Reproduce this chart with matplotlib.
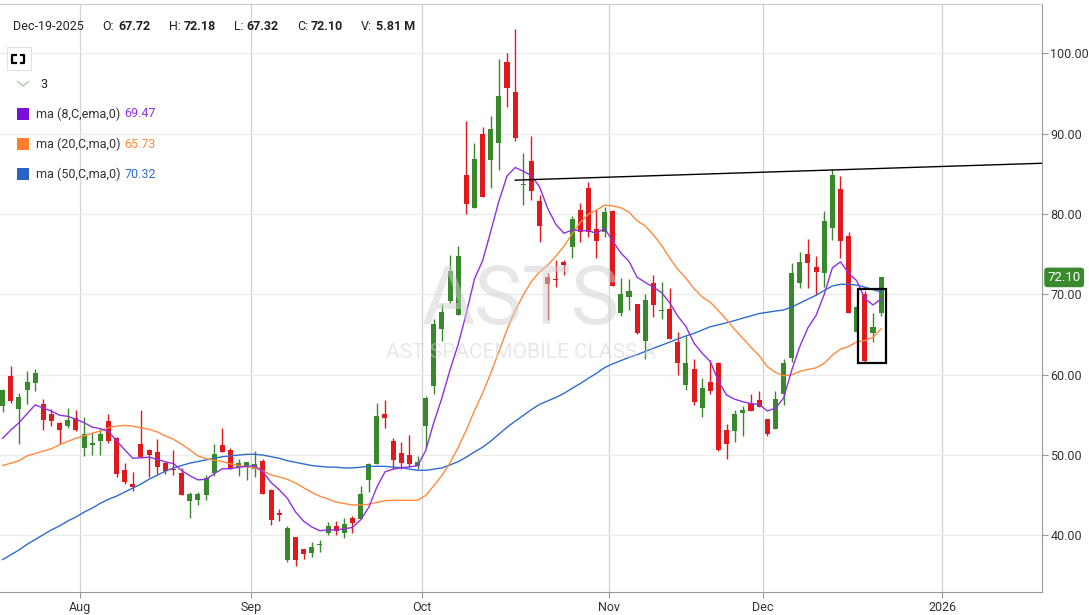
import numpy as np
import pandas as pd
import matplotlib
matplotlib.use("Agg")
import matplotlib.pyplot as plt
from matplotlib.patches import Rectangle
from matplotlib.lines import Line2D

plt.rcParams['font.family'] = ['Roboto', 'DejaVu Sans']

# daily candles, Jul-18-2025 .. Dec-19-2025
opens = [56.1, 59.83, 55.72, 58.06, 58.93, 56.33, 55.1, 53.99, 53.62, 54.61,
         50.9, 51.28, 51.77, 54.24, 52.14, 48.19, 46.46, 51.4, 50.66, 50.41,
         49.05, 48.31, 47.82, 44.26, 44.36, 45.0, 47.8, 51.28, 50.66, 48.58,
         48.64, 48.31, 49.21, 45.63, 42.75, 37.0, 39.8, 38.3, 37.8, 38.76,
         40.28, 41.15, 40.33, 42.14, 42.05, 46.87, 48.93, 55.1, 51.76, 50.28,
         50.06, 48.6, 53.57, 58.62, 65.69, 69.12, 67.42, 84.87, 80.7, 89.96,
         86.65, 88.76, 98.89, 95.17, 83.6, 86.61, 81.6, 72.18, 71.93, 73.99,
         75.88, 80.53, 83.21, 78.14, 77.73, 80.41, 67.73, 69.71, 68.8, 64.15,
         71.35, 67.93, 68.18, 64.11, 58.72, 60.65, 55.88, 59.05, 61.51, 53.12,
         53.04, 55.26, 56.49, 56.82, 54.44, 53.28, 57.56, 62.11, 71.36, 74.97,
         73.39, 72.69, 78.28, 83.09, 77.25, 65.35, 69.99, 65.14, 67.72]
highs = [58.2, 61.07, 57.73, 60.41, 60.66, 56.95, 55.72, 54.11, 55.84, 55.59,
         54.73, 52.88, 53.25, 55.1, 52.26, 49.05, 47.94, 55.59, 50.78, 52.01,
         49.17, 50.66, 48.43, 45.35, 45.35, 47.57, 51.4, 53.37, 50.84, 49.54,
         49.19, 50.53, 49.54, 45.84, 43.25, 41.2, 39.8, 38.3, 39.17, 39.46,
         41.64, 41.8, 42.14, 42.42, 46.2, 49.05, 56.46, 56.83, 52.14, 51.68,
         52.5, 49.93, 57.29, 66.88, 68.83, 74.95, 76.06, 91.57, 88.8, 90.79,
         92.15, 99.22, 99.97, 102.94, 87.56, 89.71, 82.4, 72.67, 74.24, 74.24,
         79.79, 81.31, 83.99, 80.49, 80.9, 80.5, 71.97, 71.89, 68.8, 70.0,
         72.38, 71.51, 70.77, 65.34, 64.77, 62.01, 59.54, 61.88, 61.64, 53.86,
         55.59, 56.12, 57.56, 57.93, 54.44, 57.93, 62.01, 73.85, 75.22, 76.87,
         74.76, 80.36, 85.54, 84.71, 77.79, 68.87, 70.41, 67.63, 72.18]
lows = [55.4, 56.5, 51.4, 56.33, 57.94, 53.12, 53.66, 51.4, 53.37, 53.0,
        49.92, 50.04, 50.04, 51.52, 47.32, 46.46, 45.59, 49.8, 47.32, 47.69,
        47.69, 47.57, 45.0, 42.14, 43.76, 44.38, 47.36, 50.33, 48.31, 47.34,
        46.95, 47.22, 45.22, 41.31, 41.8, 36.7, 36.25, 37.1, 37.36, 37.94,
        40.08, 40.08, 39.71, 40.33, 42.05, 45.39, 48.84, 53.33, 48.31, 48.31,
        48.48, 48.28, 50.97, 57.58, 64.2, 68.87, 67.42, 79.95, 80.7, 82.06,
        83.22, 85.41, 93.35, 89.13, 81.1, 81.77, 76.45, 66.75, 70.94, 72.38,
        74.52, 76.5, 77.12, 74.52, 77.12, 71.03, 67.24, 68.06, 65.1, 62.01,
        67.16, 66.99, 64.48, 59.95, 58.1, 56.25, 54.77, 57.61, 50.45, 49.46,
        51.68, 52.42, 55.51, 56.0, 52.42, 53.28, 56.25, 61.62, 70.74, 70.82,
        69.91, 70.95, 76.75, 74.55, 67.63, 65.35, 61.49, 64.1, 67.32]
closes = [58.1, 56.7, 57.2, 59.05, 60.16, 54.36, 54.24, 53.12, 54.36, 53.12,
          52.63, 51.52, 52.63, 51.77, 47.69, 46.7, 45.97, 49.8, 50.04, 48.56,
          48.06, 48.19, 45.02, 45.22, 45.1, 47.2, 50.16, 50.43, 48.35, 49.05,
          49.09, 48.93, 45.22, 41.93, 42.55, 40.9, 37.0, 37.75, 38.56, 38.92,
          41.15, 40.57, 41.4, 41.56, 45.22, 48.93, 54.85, 54.56, 49.42, 49.05,
          48.9, 49.19, 57.09, 66.27, 67.84, 72.96, 74.78, 81.19, 86.86, 82.06,
          90.58, 94.67, 95.71, 89.5, 83.7, 82.8, 78.55, 71.31, 71.77, 73.66,
          79.42, 77.73, 77.73, 76.62, 80.28, 71.03, 70.04, 70.41, 65.18, 69.3,
          68.68, 68.0, 64.48, 61.43, 61.51, 56.62, 58.3, 57.98, 50.69, 51.43,
          55.1, 55.59, 55.51, 56.0, 52.67, 56.95, 61.51, 72.6, 73.97, 73.93,
          72.81, 79.11, 84.83, 76.67, 67.63, 68.46, 61.7, 65.89, 72.1]

ema8_start = 52.1
sma20_head = [48.7, 49.0, 49.3, 49.9, 50.2, 50.5, 50.8, 51.3, 51.7, 52.1,
              52.4, 52.7, 53.0, 53.4, 53.6, 53.7, 53.6, 53.4, 53.2]
sma50_head = [37.0, 37.6, 38.2, 38.9, 39.5, 40.1, 40.7, 41.2, 41.8, 42.3,
              42.9, 43.4, 44.0, 44.5, 44.9, 45.4, 45.9, 46.4, 47.0, 47.5,
              48.0, 48.4, 48.7, 49.0, 49.2, 49.4, 49.6, 49.8, 49.9, 50.0,
              50.1, 50.1, 50.0, 49.8, 49.6, 49.3, 49.1, 48.9, 48.7, 48.6,
              48.5, 48.5, 48.4, 48.4, 48.5, 48.6, 48.6, 48.6, 48.5]

legend_names = ['ma (8,C,ema,0)', 'ma (20,C,ma,0)', 'ma (50,C,ma,0)']
legend_values = [69.47, 65.73, 70.32]
header = [('Dec-19-2025', ''), ('O:', '67.72'), ('H:', '72.18'), ('L:', '67.32'),
          ('C:', '72.10'), ('V:', '5.81 M')]

holidays = ['2025-09-01', '2025-11-27', '2025-12-25', '2026-01-01', '2026-01-19']
trend_start = (63, 84.2)     # (candle index, price)
trend_end = (127.8, 86.3)
box_x = (105.1, 108.6)
box_y = (61.45, 70.7)

opens, highs, lows, closes = map(np.array, (opens, highs, lows, closes))
n = len(closes)
idx = np.arange(n)

ema8 = [ema8_start]
alpha = 2 / 9
for c in closes[1:]:
    ema8.append(ema8[-1] + alpha * (c - ema8[-1]))
ema8 = np.array(ema8)
s = pd.Series(closes)
sma20 = s.rolling(20).mean().to_numpy()
sma20[:19] = sma20_head
sma50 = s.rolling(50).mean().to_numpy()
sma50[:49] = sma50_head

W, H = 1089, 615
def fx(x):
    return x / W
def fy(y):
    return 1 - y / H

fig = plt.figure(figsize=(W / 100, H / 100), dpi=100)
ax = fig.add_axes([0, 0.0366, 0.9568, 0.9569])

green = '#38892b'
red = '#e0191c'
cols = np.where(closes >= opens, green, red)
ax.vlines(idx, lows, highs, colors=cols, lw=1.0, zorder=3)
body_h = np.maximum(np.abs(closes - opens), 0.12)
ax.bar(idx, body_h, bottom=np.minimum(opens, closes), width=0.62,
       color=cols, lw=0, zorder=4)

purple = '#8f2fe6'
orange = '#ff8a3d'
blue = '#2f6bd0'
ax.plot(idx, sma50, color=blue, lw=1.0, zorder=5)
ax.plot(idx, sma20, color=orange, lw=1.0, zorder=5)
ax.plot(idx, ema8, color=purple, lw=1.0, zorder=5)

ax.plot([trend_start[0], trend_end[0]], [trend_start[1], trend_end[1]],
        color='black', lw=1.0, zorder=6)
ax.add_patch(Rectangle((box_x[0], box_y[0]), box_x[1] - box_x[0], box_y[1] - box_y[0],
                       fill=False, ec='black', lw=1.6, zorder=6))

# watermark
ax.text(0.5, 0.456, 'ASTS', transform=ax.transAxes, ha='center', va='baseline',
        fontsize=58.5, color='#d0d0d0', alpha=0.5, zorder=7)
ax.text(0.5, 0.399, 'AST SPACEMOBILE CLASS A', transform=ax.transAxes, ha='center',
        va='baseline', fontsize=15, color='#d0d0d0', alpha=0.5, zorder=7)

# month ticks on a trading-day axis
all_days = pd.bdate_range('2025-07-18', '2026-02-27')
all_days = all_days[~all_days.isin(pd.to_datetime(holidays))]
xmin, xmax = -0.33, 127.77
ticks, labels = [], []
for i in range(1, len(all_days)):
    if all_days[i].month != all_days[i - 1].month and i - 0.5 < xmax:
        ticks.append(i - 0.5)
        labels.append(str(all_days[i].year) if all_days[i].month == 1 else all_days[i].strftime('%b'))
ax.set_xticks(ticks)
ax.set_xticklabels(labels)
ax.set_xlim(xmin, xmax)
ax.set_ylim(32.91, 106.11)
ax.set_yticks(np.arange(40, 101, 10))
ax.set_yticklabels([f'{v:.2f}' for v in np.arange(40, 101, 10)])
ax.yaxis.tick_right()

ax.yaxis.grid(True, color='#ebebeb', lw=0.9)
ax.xaxis.grid(True, color='#d2d2d2', lw=0.9)
ax.set_axisbelow(True)
ax.tick_params(axis='both', length=4, color='#999999', labelcolor='#333333',
               labelsize=9, pad=2)
ax.spines['left'].set_visible(False)
ax.spines['top'].set_color('#cccccc')
ax.spines['right'].set_color('#999999')
ax.spines['bottom'].set_color('#999999')
for sp in ax.spines.values():
    sp.set_linewidth(0.8)

ax.annotate(f'{closes[-1]:.2f}', xy=(1, closes[-1]), xycoords=('axes fraction', 'data'),
            xytext=(4, 0), textcoords='offset points', ha='left', va='center',
            fontsize=9.5, color='white', annotation_clip=False,
            bbox=dict(boxstyle='round,pad=0.25', fc='#3a8a2d', ec='none'))

# header line
head_x = [(13, None), (102, 118), (169, 184), (234, 246.5), (297, 311), (361, 376)]
for (lab, val), (x1, x2) in zip(header, head_x):
    fig.text(fx(x1), fy(26), lab, ha='left', va='center', fontsize=9, color='#222222')
    if val:
        fig.text(fx(x2), fy(26), val, ha='left', va='center', fontsize=9,
                 color='#222222', weight='bold')

# fullscreen button
fig.patches.append(Rectangle((fx(7), fy(70)), 24 / W, 23 / H, transform=fig.transFigure,
                             fc='white', ec='#e2e2e2', lw=0.8))
for cx, cy, dx, dy in [(12, 55, 1, 1), (24, 55, -1, 1), (12, 63, 1, -1), (24, 63, -1, -1)]:
    fig.add_artist(Line2D([fx(cx + 3.5 * dx), fx(cx), fx(cx)],
                          [fy(cy), fy(cy), fy(cy + 3.5 * dy)], color='black', lw=1.6))

# legend
fig.add_artist(Line2D([fx(17.5), fx(23), fx(28.5)], [fy(81.5), fy(86), fy(81.5)],
                      color='#8cc68c', lw=0.8))
fig.text(fx(40), fy(84), '3', ha='left', va='center', fontsize=9, color='#222222')
square_cols = ['#7a10d8', '#ff7f2a', '#2a62c8']
value_cols = [purple, orange, blue]
for k, (name, val) in enumerate(zip(legend_names, legend_values)):
    y = 114 + 30 * k
    fig.patches.append(Rectangle((fx(17), fy(y + 6)), 12 / W, 12 / H,
                                 transform=fig.transFigure, fc=square_cols[k], ec='none'))
    fig.text(fx(36), fy(y), name, ha='left', va='center', fontsize=9, color='#333333')
    fig.text(fx(124.5), fy(y), f'{val:.2f}', ha='left', va='center', fontsize=9,
             color=value_cols[k])

fig.savefig('out.png', dpi=100)
